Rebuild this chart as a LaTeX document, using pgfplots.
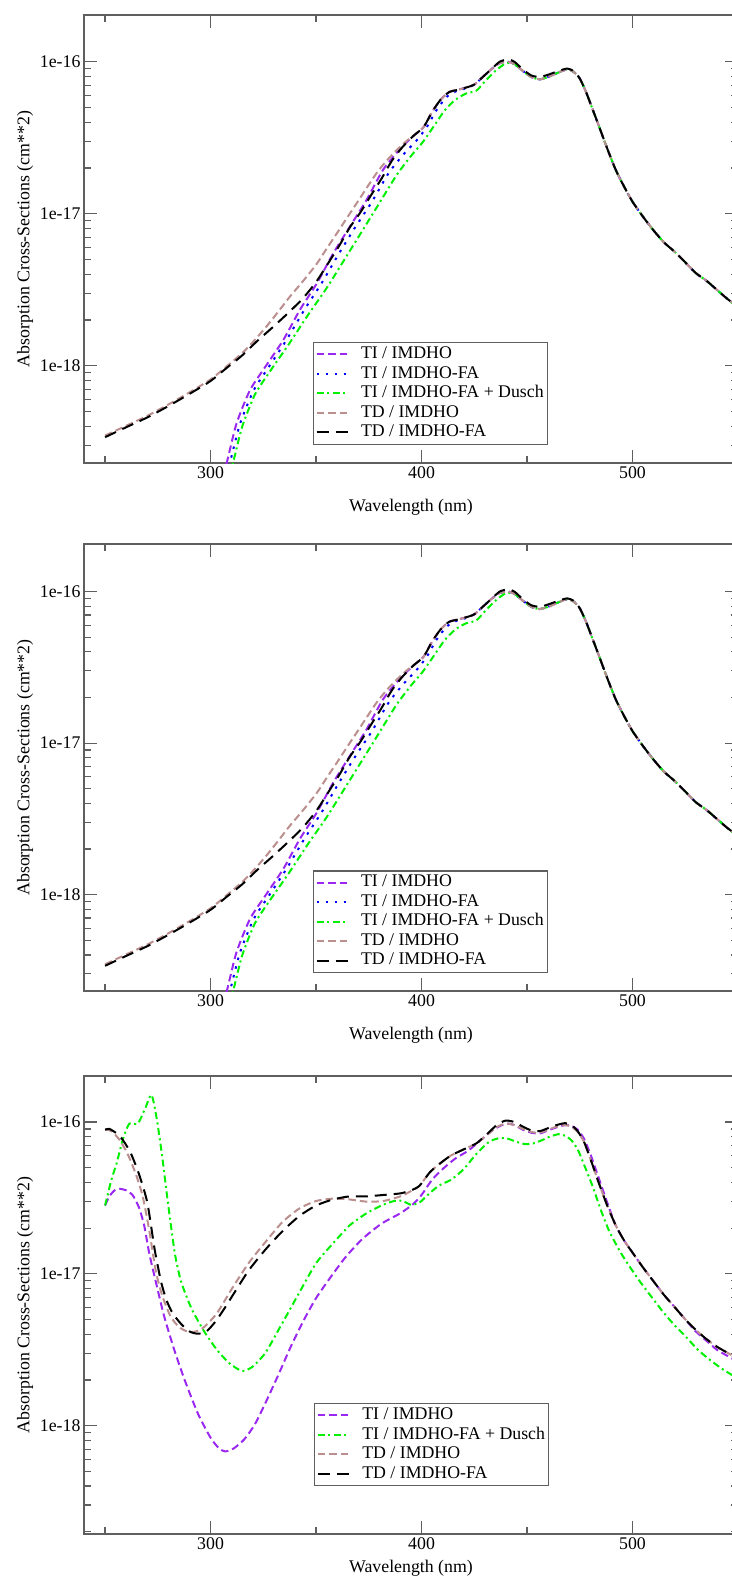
\documentclass[border=0pt]{standalone}
\usepackage{fontspec}
\setmainfont{Liberation Serif}
\usepackage{pgfplots}
\usepackage{pgfplotstable}
\pgfplotsset{compat=1.18}
\definecolor{cpurple}{RGB}{155,40,240}
\definecolor{cblue}{RGB}{0,0,255}
\definecolor{cgreen}{RGB}{0,240,0}
\definecolor{cbrown}{RGB}{188,143,143}
\definecolor{caxis}{RGB}{95,95,95}
\newcommand{\fs}{\fontsize{17.8}{21}\selectfont}

\pgfplotstableread{
x y
250 3.39e-19
260 3.94e-19
270 4.57e-19
280 5.43e-19
290 6.53e-19
300 7.94e-19
308 9.77e-19
315 1.17e-18
322 1.45e-18
330 1.82e-18
337 2.24e-18
343.5 2.75e-18
350 3.55e-18
356 4.79e-18
361 6.17e-18
366 8.13e-18
371 1.02e-17
376 1.32e-17
381 1.70e-17
386 2.24e-17
391 2.75e-17
396 3.24e-17
401 3.72e-17
405 4.68e-17
409 5.62e-17
413 6.31e-17
417 6.53e-17
421 6.76e-17
425 7.08e-17
429 7.94e-17
433 8.91e-17
437 1.00e-16
441 1.035e-16
444 1.00e-16
448 8.91e-17
452 8.13e-17
456 7.94e-17
460 8.22e-17
465 8.71e-17
469 9.02e-17
472 8.71e-17
475 7.76e-17
478 6.31e-17
481 4.90e-17
484 3.80e-17
488 2.69e-17
492 1.95e-17
496 1.51e-17
500 1.20e-17
505 9.55e-18
510 7.76e-18
515 6.46e-18
520 5.62e-18
525 4.79e-18
530 4.07e-18
535 3.63e-18
540 3.16e-18
545 2.75e-18
550 2.45e-18
}\pTDFA

\pgfplotstableread{
x y
250 3.47e-19
260 4.03e-19
270 4.68e-19
280 5.56e-19
290 6.68e-19
300 8.13e-19
308 1.00e-18
315.5 1.23e-18
321 1.48e-18
326.6 1.82e-18
332 2.26e-18
337.6 2.85e-18
344 3.63e-18
350.3 4.68e-18
355 5.89e-18
359.8 7.41e-18
364.5 9.33e-18
369.3 1.175e-17
374 1.48e-17
378.8 1.86e-17
383.5 2.24e-17
388.3 2.63e-17
393 3.02e-17
397.6 3.39e-17
401 3.72e-17
405 4.68e-17
409 5.62e-17
413 6.31e-17
417 6.53e-17
421 6.76e-17
425 7.08e-17
429 7.94e-17
433 8.91e-17
437 9.77e-17
441 1.00e-16
444 9.66e-17
448 8.71e-17
452 7.94e-17
456 7.67e-17
460 7.94e-17
465 8.51e-17
469 8.91e-17
472 8.61e-17
475 7.76e-17
478 6.31e-17
481 4.90e-17
484 3.80e-17
488 2.69e-17
492 1.95e-17
496 1.51e-17
500 1.20e-17
505 9.55e-18
510 7.76e-18
515 6.46e-18
520 5.62e-18
525 4.79e-18
530 4.07e-18
535 3.63e-18
540 3.16e-18
545 2.75e-18
550 2.45e-18
}\pTD

\pgfplotstableread{
x y
306 1.91e-19
308 2.40e-19
312.3 4.17e-19
318.7 6.92e-19
325.8 9.77e-19
334.5 1.48e-18
342.4 2.34e-18
350.3 3.47e-18
358.2 5.50e-18
366 8.22e-18
373.9 1.23e-17
381.8 1.95e-17
390 2.69e-17
396 3.24e-17
401 3.72e-17
405 4.68e-17
409 5.62e-17
413 6.31e-17
417 6.53e-17
421 6.76e-17
425 7.08e-17
429 7.94e-17
433 8.91e-17
437 9.77e-17
441 1.00e-16
444 9.66e-17
448 8.71e-17
452 7.94e-17
456 7.67e-17
460 7.94e-17
465 8.51e-17
469 8.91e-17
472 8.61e-17
475 7.76e-17
478 6.31e-17
481 4.90e-17
484 3.80e-17
488 2.69e-17
492 1.95e-17
496 1.51e-17
500 1.20e-17
505 9.55e-18
510 7.76e-18
515 6.46e-18
520 5.62e-18
525 4.79e-18
530 4.07e-18
535 3.63e-18
540 3.16e-18
545 2.75e-18
550 2.45e-18
}\pTI

\pgfplotstableread{
x y
307.5 1.91e-19
309.5 2.40e-19
314 4.17e-19
320.5 6.92e-19
327.5 9.77e-19
336 1.48e-18
344.5 2.34e-18
352.5 3.47e-18
360.5 5.37e-18
368.5 8.13e-18
376.5 1.20e-17
384.5 1.86e-17
392 2.51e-17
397.5 3.02e-17
402.5 3.72e-17
407 4.79e-17
412 5.89e-17
417 6.46e-17
421 6.68e-17
425 7.08e-17
429 7.94e-17
433 8.91e-17
437 9.77e-17
441 1.00e-16
444 9.66e-17
448 8.71e-17
452 7.94e-17
456 7.67e-17
460 7.94e-17
465 8.51e-17
469 8.91e-17
472 8.61e-17
475 7.76e-17
478 6.31e-17
481 4.90e-17
484 3.80e-17
488 2.69e-17
492 1.95e-17
496 1.51e-17
500 1.20e-17
505 9.55e-18
510 7.76e-18
515 6.46e-18
520 5.62e-18
525 4.79e-18
530 4.07e-18
535 3.63e-18
540 3.16e-18
545 2.75e-18
550 2.45e-18
}\pTIFA

\pgfplotstableread{
x y
309 1.91e-19
311 2.40e-19
315 3.98e-19
321 6.46e-19
328 9.12e-19
337 1.38e-18
346 2.14e-18
355 3.24e-18
363.5 5.01e-18
372 7.76e-18
380 1.175e-17
388 1.78e-17
395 2.40e-17
400.5 2.95e-17
406 3.80e-17
411 4.79e-17
416 5.62e-17
421 6.17e-17
426 6.46e-17
430 7.41e-17
435 8.71e-17
440 9.77e-17
444 9.66e-17
448 8.71e-17
452 7.94e-17
456 7.67e-17
460 7.94e-17
465 8.51e-17
469 8.91e-17
472 8.61e-17
475 7.76e-17
478 6.31e-17
481 4.90e-17
484 3.80e-17
488 2.69e-17
492 1.95e-17
496 1.51e-17
500 1.20e-17
505 9.55e-18
510 7.76e-18
515 6.46e-18
520 5.62e-18
525 4.79e-18
530 4.07e-18
535 3.63e-18
540 3.16e-18
545 2.75e-18
550 2.40e-18
}\pTIFAD

\pgfplotstableread{
x y
250 8.91e-17
252 9.02e-17
255 8.51e-17
258 7.76e-17
262 6.31e-17
266 4.57e-17
270 2.95e-17
273.5 1.445e-17
276.5 8.91e-18
279 6.76e-18
282 5.50e-18
286 4.68e-18
290 4.17e-18
294 4.03e-18
298 4.17e-18
302 4.79e-18
306 5.75e-18
311 7.41e-18
318 1.05e-17
326 1.445e-17
334 1.905e-17
342 2.40e-17
350 2.82e-17
358 3.09e-17
366 3.24e-17
374 3.24e-17
382 3.31e-17
390 3.39e-17
395 3.55e-17
399 3.80e-17
404 4.68e-17
409 5.37e-17
414 6.03e-17
420 6.61e-17
426 7.24e-17
431 8.32e-17
436 9.66e-17
440 1.023e-16
444 1.00e-16
448 9.33e-17
452 8.81e-17
456 8.71e-17
460 9.12e-17
464 9.55e-17
468 9.84e-17
471 9.55e-17
474 8.71e-17
477 7.41e-17
480 5.75e-17
484 3.98e-17
488 2.82e-17
492 2.09e-17
496 1.66e-17
500 1.38e-17
505 1.10e-17
510 8.91e-18
515 7.24e-18
520 6.03e-18
525 5.01e-18
530 4.27e-18
535 3.72e-18
540 3.31e-18
545 3.02e-18
550 2.75e-18
}\qTDFA

\pgfplotstableread{
x y
250 8.91e-17
253 8.71e-17
257 7.59e-17
261 6.03e-17
265 4.37e-17
268 3.16e-17
271 1.905e-17
274 1.05e-17
277 7.24e-18
281 5.25e-18
285 4.47e-18
289 4.17e-18
293 4.17e-18
297 4.47e-18
303 5.50e-18
310 7.94e-18
318 1.175e-17
326 1.62e-17
334 2.19e-17
342 2.69e-17
350 3.02e-17
358 3.13e-17
366 3.09e-17
374 2.99e-17
382 3.02e-17
390 3.24e-17
395 3.51e-17
399 3.80e-17
404 4.68e-17
409 5.37e-17
414 6.03e-17
420 6.61e-17
426 7.24e-17
431 8.22e-17
436 9.33e-17
440 9.77e-17
444 9.55e-17
448 9.02e-17
452 8.61e-17
456 8.51e-17
460 8.91e-17
464 9.33e-17
468 9.55e-17
471 9.33e-17
474 8.61e-17
477 7.41e-17
480 5.75e-17
484 3.98e-17
488 2.82e-17
492 2.09e-17
496 1.66e-17
500 1.38e-17
505 1.10e-17
510 8.91e-18
515 7.24e-18
520 6.03e-18
525 5.01e-18
530 4.27e-18
535 3.72e-18
540 3.31e-18
545 3.02e-18
550 2.75e-18
}\qTD

\pgfplotstableread{
x y
250 2.82e-17
252 3.24e-17
254.5 3.55e-17
257 3.63e-17
260 3.55e-17
263 3.31e-17
266 2.75e-17
268.5 2.09e-17
271 1.35e-17
274 8.91e-18
278 5.25e-18
283 3.09e-18
288 1.95e-18
294 1.20e-18
300 8.32e-19
304 7.08e-19
307 6.76e-19
311 7.08e-19
316 8.13e-19
321 1.02e-18
326 1.41e-18
332 2.14e-18
338 3.31e-18
344 4.90e-18
350 6.92e-18
357 9.55e-18
364 1.29e-17
372 1.70e-17
381 2.14e-17
390 2.51e-17
396 2.88e-17
400 3.31e-17
405 4.17e-17
410 4.90e-17
416 5.75e-17
422 6.46e-17
428 7.59e-17
434 8.91e-17
440 9.77e-17
444 9.55e-17
448 8.91e-17
452 8.51e-17
456 8.41e-17
460 8.81e-17
464 9.23e-17
468 9.55e-17
471 9.44e-17
474 8.91e-17
477 7.76e-17
480 6.17e-17
484 4.27e-17
488 2.95e-17
492 2.09e-17
496 1.66e-17
500 1.38e-17
505 1.10e-17
510 8.91e-18
515 7.24e-18
520 6.03e-18
525 5.01e-18
530 4.17e-18
535 3.63e-18
540 3.16e-18
545 2.88e-18
550 2.63e-18
}\qTI

\pgfplotstableread{
x y
250 2.82e-17
253 4.17e-17
255.5 5.37e-17
258.5 7.76e-17
261.5 9.77e-17
265.5 9.77e-17
269 1.23e-16
272 1.51e-16
274.5 1.047e-16
277 6.03e-17
279.5 3.16e-17
283 1.38e-17
286 8.91e-18
291 5.89e-18
297 4.17e-18
303 3.16e-18
309 2.57e-18
315 2.29e-18
320 2.45e-18
326 3.02e-18
333 4.47e-18
341 7.08e-18
350 1.175e-17
358 1.585e-17
366 2.09e-17
374 2.51e-17
381 2.82e-17
387 3.02e-17
391 3.02e-17
395 2.85e-17
399 2.95e-17
403 3.31e-17
408 3.80e-17
414 4.17e-17
420 4.90e-17
426 6.17e-17
432 7.41e-17
437 7.85e-17
441 7.76e-17
445 7.41e-17
449 7.16e-17
453 7.24e-17
457 7.59e-17
461 8.04e-17
465 8.32e-17
468 8.13e-17
471 7.59e-17
474 6.61e-17
477 5.25e-17
481 3.80e-17
485 2.63e-17
489 1.905e-17
494 1.41e-17
498 1.15e-17
504 8.71e-18
510 6.76e-18
515 5.50e-18
520 4.57e-18
525 3.89e-18
531 3.16e-18
537 2.69e-18
543 2.34e-18
550 2.04e-18
}\qTIFAD

\tikzset{
  sTI/.style={cpurple, line width=2pt, dash pattern=on 7.5pt off 4pt},
  sTIFA/.style={cblue, line width=2pt, dash pattern=on 2.5pt off 6.5pt},
  sTIFAD/.style={cgreen, line width=2pt, dash pattern=on 7pt off 3.5pt on 2pt off 3.5pt},
  sTD/.style={cbrown, line width=2pt, dash pattern=on 7.5pt off 4pt},
  sTDFA/.style={black, line width=2pt, dash pattern=on 12pt off 7pt},
}

\begin{document}
\begin{tikzpicture}
\path[use as bounding box] (0pt,0pt) rectangle (731pt,-1578pt);

\begin{axis}[ymode=log, scale only axis, width=654pt, height=448pt,
  xmin=240, xmax=550, ymin=2.29e-19, ymax=2.03e-16,
  at={(84pt,-15pt)}, anchor=north west,
  xtick={300,400,500}, xticklabels={300,400,500},
  minor xtick={250,350,450,550},
  ytick={1e-18,1e-17,1e-16}, yticklabels={1e-18,1e-17,1e-16},
  minor ytick={3e-19,4e-19,5e-19,6e-19,7e-19,8e-19,9e-19,2e-18,3e-18,4e-18,5e-18,6e-18,7e-18,8e-18,9e-18,2e-17,3e-17,4e-17,5e-17,6e-17,7e-17,8e-17,9e-17},
  tick align=inside, major tick length=13pt, minor tick length=6.7pt,
  axis line style={caxis, line width=1.3pt},
  tick style={caxis, line width=1.2pt},
  tick label style={font=\fs},
  label style={font=\fs},
  xlabel style={yshift=-14pt},
  xlabel={Wavelength (nm)},
  ylabel={Absorption Cross-Sections (cm**2)},
  legend cell align=left,
  legend image code/.code={\draw[#1] (0pt,0pt) -- (31pt,0pt);},
  legend style={draw=caxis, line width=1.2pt, at={(0.350,0.270)}, anchor=north west,
    inner sep=2pt, font=\fs, column sep=11pt,
    nodes={inner sep=1.5pt, text height=12.5pt, text depth=4pt}}]
\addplot[sTI, smooth, tension=0.4] table {\pTI};
\addlegendentry{TI / IMDHO}
\addplot[sTIFA, smooth, tension=0.4] table {\pTIFA};
\addlegendentry{TI / IMDHO-FA}
\addplot[sTIFAD, smooth, tension=0.4] table {\pTIFAD};
\addlegendentry{TI / IMDHO-FA + Dusch}
\addplot[sTD, smooth, tension=0.4] table {\pTD};
\addlegendentry{TD / IMDHO}
\addplot[sTDFA, smooth, tension=0.4] table {\pTDFA};
\addlegendentry{TD / IMDHO-FA}
\end{axis}

\begin{axis}[ymode=log, scale only axis, width=654pt, height=447pt,
  xmin=240, xmax=550, ymin=2.31e-19, ymax=2.06e-16,
  at={(84pt,-544pt)}, anchor=north west,
  xtick={300,400,500}, xticklabels={300,400,500},
  minor xtick={250,350,450,550},
  ytick={1e-18,1e-17,1e-16}, yticklabels={1e-18,1e-17,1e-16},
  minor ytick={3e-19,4e-19,5e-19,6e-19,7e-19,8e-19,9e-19,2e-18,3e-18,4e-18,5e-18,6e-18,7e-18,8e-18,9e-18,2e-17,3e-17,4e-17,5e-17,6e-17,7e-17,8e-17,9e-17},
  tick align=inside, major tick length=13pt, minor tick length=6.7pt,
  axis line style={caxis, line width=1.3pt},
  tick style={caxis, line width=1.2pt},
  tick label style={font=\fs},
  label style={font=\fs},
  xlabel style={yshift=-14pt},
  xlabel={Wavelength (nm)},
  ylabel={Absorption Cross-Sections (cm**2)},
  legend cell align=left,
  legend image code/.code={\draw[#1] (0pt,0pt) -- (31pt,0pt);},
  legend style={draw=caxis, line width=1.2pt, at={(0.350,0.270)}, anchor=north west,
    inner sep=2pt, font=\fs, column sep=11pt,
    nodes={inner sep=1.5pt, text height=12.5pt, text depth=4pt}}]
\addplot[sTI, smooth, tension=0.4] table {\pTI};
\addlegendentry{TI / IMDHO}
\addplot[sTIFA, smooth, tension=0.4] table {\pTIFA};
\addlegendentry{TI / IMDHO-FA}
\addplot[sTIFAD, smooth, tension=0.4] table {\pTIFAD};
\addlegendentry{TI / IMDHO-FA + Dusch}
\addplot[sTD, smooth, tension=0.4] table {\pTD};
\addlegendentry{TD / IMDHO}
\addplot[sTDFA, smooth, tension=0.4] table {\pTDFA};
\addlegendentry{TD / IMDHO-FA}
\end{axis}

\begin{axis}[ymode=log, scale only axis, width=654pt, height=458pt,
  xmin=240, xmax=550, ymin=1.93e-19, ymax=2.01e-16,
  at={(84pt,-1076pt)}, anchor=north west,
  xtick={300,400,500}, xticklabels={300,400,500},
  minor xtick={250,350,450,550},
  ytick={1e-18,1e-17,1e-16}, yticklabels={1e-18,1e-17,1e-16},
  minor ytick={2e-19,3e-19,4e-19,5e-19,6e-19,7e-19,8e-19,9e-19,2e-18,3e-18,4e-18,5e-18,6e-18,7e-18,8e-18,9e-18,2e-17,3e-17,4e-17,5e-17,6e-17,7e-17,8e-17,9e-17},
  tick align=inside, major tick length=13pt, minor tick length=6.7pt,
  axis line style={caxis, line width=1.3pt},
  tick style={caxis, line width=1.2pt},
  tick label style={font=\fs},
  label style={font=\fs},
  xlabel style={yshift=-4pt},
  xlabel={Wavelength (nm)},
  ylabel={Absorption Cross-Sections (cm**2)},
  legend cell align=left,
  legend image code/.code={\draw[#1] (0pt,0pt) -- (31pt,0pt);},
  legend style={draw=caxis, line width=1.2pt, at={(0.352,0.286)}, anchor=north west,
    inner sep=2pt, font=\fs, column sep=11pt,
    nodes={inner sep=1.5pt, text height=12.5pt, text depth=4pt}}]
\addplot[sTI, smooth, tension=0.4] table {\qTI};
\addlegendentry{TI / IMDHO}
\addplot[sTIFAD, smooth, tension=0.4] table {\qTIFAD};
\addlegendentry{TI / IMDHO-FA + Dusch}
\addplot[sTD, smooth, tension=0.4] table {\qTD};
\addlegendentry{TD / IMDHO}
\addplot[sTDFA, smooth, tension=0.4] table {\qTDFA};
\addlegendentry{TD / IMDHO-FA}
\end{axis}
\end{tikzpicture}
\end{document}
